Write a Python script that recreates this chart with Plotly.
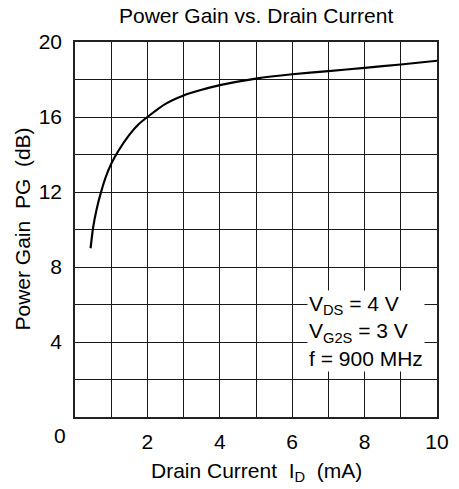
import plotly.graph_objects as go

# Data
drain_current = [0.43, 0.5, 0.6, 0.72, 0.85, 1.0, 1.2, 1.5, 1.75, 2.0, 2.5, 3.0, 3.5, 4.0, 5.0, 6.0, 7.0, 8.0, 9.0, 10.0]
power_gain = [9.0, 10.1, 11.1, 12.0, 12.8, 13.5, 14.2, 15.05, 15.6, 16.0, 16.7, 17.15, 17.45, 17.7, 18.05, 18.28, 18.45, 18.62, 18.8, 19.0]

x_tickvals = [2, 4, 6, 8, 10]
x_ticktext = ["2", "4", "6", "8", "10"]
y_tickvals = [4, 8, 12, 16, 20]
y_ticktext = ["4", "8", "12", "16", "20"]
origin_label = "0"
conditions = ["V<sub>DS</sub> = 4 V", "V<sub>G2S</sub> = 3 V", "f = 900 MHz"]

FONT = "Liberation Sans, Arial, Helvetica, sans-serif"
FS = 21
NB = "\u00a0"
GRID = "#1a1a1a"

fig = go.Figure()
fig.add_trace(go.Scatter(
    x=drain_current, y=power_gain, mode="lines",
    line=dict(color="black", width=2.2, shape="spline", smoothing=0.6),
    hoverinfo="skip", showlegend=False,
))

axis_common = dict(
    showgrid=True, gridcolor=GRID, gridwidth=1,
    showline=True, linecolor="#222222", linewidth=1.5, mirror=True,
    zeroline=False, ticks="", tickfont=dict(family=FONT, size=FS, color="black"),
    tickmode="array", fixedrange=True, automargin=False,
)

fig.update_xaxes(range=[0, 10], tickvals=x_tickvals, ticktext=x_ticktext,
                 ticklabelstandoff=5,
                 minor=dict(tickmode="linear", tick0=0, dtick=1, showgrid=True,
                            gridcolor=GRID, gridwidth=1, ticks=""),
                 **axis_common)
fig.update_yaxes(range=[0, 20], tickvals=y_tickvals, ticktext=y_ticktext,
                 ticklabelstandoff=7,
                 minor=dict(tickmode="linear", tick0=0, dtick=2, showgrid=True,
                            gridcolor=GRID, gridwidth=1, ticks=""),
                 **axis_common)

txt = dict(family=FONT, size=FS, color="black")

# origin "0" label, shared corner
fig.add_annotation(x=0, y=0, xref="x", yref="paper", text=origin_label, showarrow=False,
                   xanchor="center", yanchor="top", xshift=-15, yshift=-5, font=txt)

# axis titles
fig.add_annotation(x=0.5, y=0, xref="paper", yref="paper",
                   text="Drain Current" + NB + NB + "I<sub>D</sub>" + NB + NB + "(mA)",
                   showarrow=False, xanchor="center", yanchor="middle", yshift=-55, font=txt)
fig.add_annotation(x=0, y=0.5, xref="paper", yref="paper",
                   text="Power Gain" + NB + NB + "PG" + NB + NB + "(dB)",
                   showarrow=False, xanchor="center", yanchor="middle", xshift=-53,
                   textangle=-90, font=txt)

# title
fig.add_annotation(x=0.5, y=1, xref="paper", yref="paper", text="Power Gain vs. Drain Current",
                   showarrow=False, xanchor="center", yanchor="middle", yshift=27, font=txt)

# conditions box
fig.add_annotation(x=6.41, y=4.6, xref="x", yref="y", text="<br>".join(conditions),
                   showarrow=False, align="left", xanchor="left", yanchor="middle",
                   bgcolor="white", borderpad=1, font=txt)

fig.update_layout(
    width=459, height=489,
    margin=dict(l=75, r=22, t=42, b=72),
    paper_bgcolor="white", plot_bgcolor="white",
)

fig.write_html("out.html", config={"displayModeBar": False},
               post_script="document.body.style.margin='0';document.body.style.overflow='hidden';")
